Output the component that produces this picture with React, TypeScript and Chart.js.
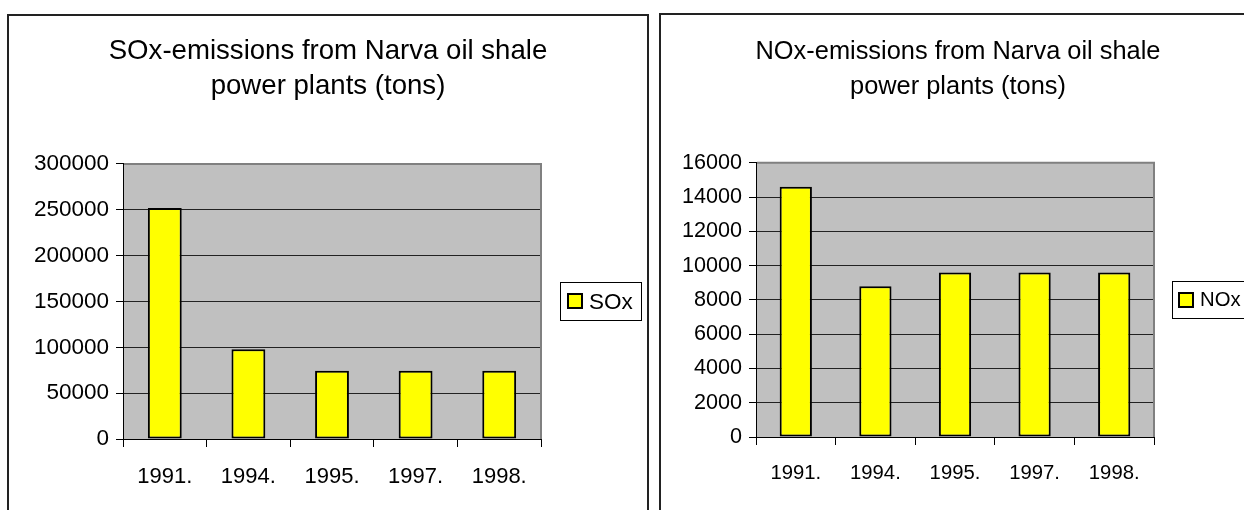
import React, { useEffect, useRef } from 'react';
import { Chart, registerables } from 'chart.js';

Chart.register(...registerables);

const categories = ['1991.', '1994.', '1995.', '1997.', '1998.'];
const soxValues = [252000, 98000, 74500, 74500, 74500];
const noxValues = [14600, 8800, 9600, 9600, 9600];
const soxTitle = ['SOx-emissions from Narva oil shale', 'power plants (tons)'];
const noxTitle = ['NOx-emissions from Narva oil shale', 'power plants (tons)'];
const soxAxis = { min: 0, max: 300000, step: 50000 };
const noxAxis = { min: 0, max: 16000, step: 2000 };

const FONT = '"Liberation Sans", Arial, Helvetica, sans-serif';

const plotDeco = {
  id: 'plotDeco',
  beforeDraw(chart: any) {
    const { ctx, chartArea: a } = chart;
    ctx.save();
    ctx.fillStyle = '#C0C0C0';
    ctx.fillRect(a.left, a.top, a.right - a.left, a.bottom - a.top);
    ctx.restore();
  },
  beforeDatasetsDraw(chart: any) {
    const { ctx, chartArea: a } = chart;
    ctx.save();
    ctx.strokeStyle = '#808080';
    ctx.lineWidth = 2;
    ctx.beginPath();
    ctx.moveTo(a.left + 1, a.top);
    ctx.lineTo(a.right, a.top);
    ctx.lineTo(a.right, a.bottom);
    ctx.stroke();
    ctx.restore();
  },
  afterDraw(chart: any) {
    const o = chart.options.plugins.plotDeco;
    const { ctx, chartArea: a } = chart;
    const ds = chart.data.datasets[0];
    const fx = Math.round(a.right + o.gap);
    const cy = (a.top + a.bottom) / 2;
    const fy = Math.round(cy - o.frameH / 2);
    ctx.save();
    ctx.fillStyle = '#fff';
    ctx.fillRect(fx, fy, o.frameW, o.frameH);
    ctx.strokeStyle = '#000';
    ctx.lineWidth = 1;
    ctx.strokeRect(fx + 0.5, fy + 0.5, o.frameW, o.frameH);
    const ss = o.swatch;
    const sx = fx + o.swatchX;
    const sy = Math.round(cy - ss / 2);
    ctx.fillStyle = ds.backgroundColor;
    ctx.fillRect(sx, sy, ss, ss);
    ctx.lineWidth = 2;
    ctx.strokeStyle = '#000';
    ctx.strokeRect(sx, sy, ss, ss);
    ctx.fillStyle = '#000';
    ctx.font = `${o.fontSize}px ${FONT}`;
    ctx.textBaseline = 'middle';
    ctx.textAlign = 'left';
    ctx.fillText(ds.label, fx + o.textX, cy + 1);
    ctx.restore();
  },
};

type Spec = {
  label: string;
  values: number[];
  title: string[];
  axis: { min: number; max: number; step: number };
  width: number;
  height: number;
  yWidth: number;
  xHeight: number;
  rightPad: number;
  titleSize: number;
  titleLH: number;
  titleTop: number;
  titleBottom: number;
  yFont: number;
  xFont: number;
  xPad: number;
  legend: any;
};

function BarChart({ spec }: { spec: Spec }) {
  const ref = useRef<HTMLCanvasElement>(null);
  useEffect(() => {
    if (!ref.current) return;
    const chart = new Chart(ref.current, {
      type: 'bar',
      data: {
        labels: categories,
        datasets: [
          {
            label: spec.label,
            data: spec.values,
            backgroundColor: '#FFFF00',
            borderColor: '#000000',
            borderWidth: 2,
            borderSkipped: false,
            categoryPercentage: 1,
            barPercentage: 0.405,
            yAxisID: 'y',
          },
        ],
      },
      options: {
        responsive: false,
        animation: false,
        devicePixelRatio: 1,
        layout: { padding: 0 },
        plugins: {
          legend: { display: false },
          tooltip: { enabled: false },
          title: {
            display: true,
            text: spec.title,
            color: '#000',
            font: { family: FONT, size: spec.titleSize, weight: 'normal', lineHeight: spec.titleLH },
            padding: { top: spec.titleTop, bottom: spec.titleBottom },
          },
          plotDeco: spec.legend,
        } as any,
        scales: {
          x: {
            grid: {
              offset: true,
              drawOnChartArea: false,
              drawTicks: true,
              tickLength: 8,
              color: '#000',
            },
            border: { color: '#000', width: 1 },
            ticks: {
              color: '#000',
              font: { family: FONT, size: spec.xFont },
              padding: spec.xPad,
              maxRotation: 0,
            },
            afterFit: (s: any) => {
              s.height = spec.xHeight;
            },
          },
          y: {
            position: 'left',
            min: spec.axis.min,
            max: spec.axis.max,
            grid: {
              color: '#222',
              tickColor: '#000',
              tickLength: 7,
              lineWidth: 1,
            },
            border: { color: '#000', width: 1 },
            ticks: {
              stepSize: spec.axis.step,
              color: '#000',
              font: { family: FONT, size: spec.yFont },
              padding: 7,
              callback: (v: any) => String(v),
            },
            afterFit: (s: any) => {
              s.width = spec.yWidth;
            },
          },
          legendSpace: {
            type: 'linear',
            position: 'right',
            display: true,
            min: 0,
            max: 1,
            grid: { display: false, drawTicks: false },
            border: { display: false },
            ticks: { display: false },
            afterFit: (s: any) => {
              s.width = spec.rightPad;
            },
          },
        },
      } as any,
      plugins: [plotDeco],
    });
    return () => chart.destroy();
  }, [spec]);
  return (
    <canvas
      ref={ref}
      width={spec.width}
      height={spec.height}
      style={{ position: 'absolute', left: 0, top: 0, width: spec.width, height: spec.height }}
    />
  );
}

const soxSpec: Spec = {
  label: 'SOx',
  values: soxValues,
  title: soxTitle,
  axis: soxAxis,
  width: 638,
  height: 494,
  yWidth: 114,
  xHeight: 71,
  rightPad: 106,
  titleSize: 27.6,
  titleLH: 1.268,
  titleTop: 17.5,
  titleBottom: 60.5,
  yFont: 22.5,
  xFont: 22,
  xPad: 16.5,
  legend: { gap: 19, frameW: 81, frameH: 38, swatch: 14, swatchX: 8, textX: 29, fontSize: 22.5 },
};

const noxSpec: Spec = {
  label: 'NOx',
  values: noxValues,
  title: noxTitle,
  axis: noxAxis,
  width: 594,
  height: 495,
  yWidth: 95,
  xHeight: 73,
  rightPad: 101,
  titleSize: 25.4,
  titleLH: 1.38,
  titleTop: 19.5,
  titleBottom: 58.2,
  yFont: 21.6,
  xFont: 20.3,
  xPad: 16,
  legend: { gap: 18, frameW: 76, frameH: 37, swatch: 14, swatchX: 7, textX: 28, fontSize: 20.3 },
};

export default function App() {
  return (
    <div
      style={{
        position: 'absolute',
        left: 0,
        top: 0,
        width: 1244,
        height: 510,
        overflow: 'hidden',
        background: '#fff',
      }}
    >
      <div
        style={{
          position: 'absolute',
          left: 7,
          top: 14,
          width: 642,
          height: 520,
          border: '2px solid #222',
          boxSizing: 'border-box',
        }}
      >
        <BarChart spec={soxSpec} />
      </div>
      <div
        style={{
          position: 'absolute',
          left: 659,
          top: 13,
          width: 598,
          height: 520,
          border: '2px solid #222',
          boxSizing: 'border-box',
        }}
      >
        <BarChart spec={noxSpec} />
      </div>
    </div>
  );
}
